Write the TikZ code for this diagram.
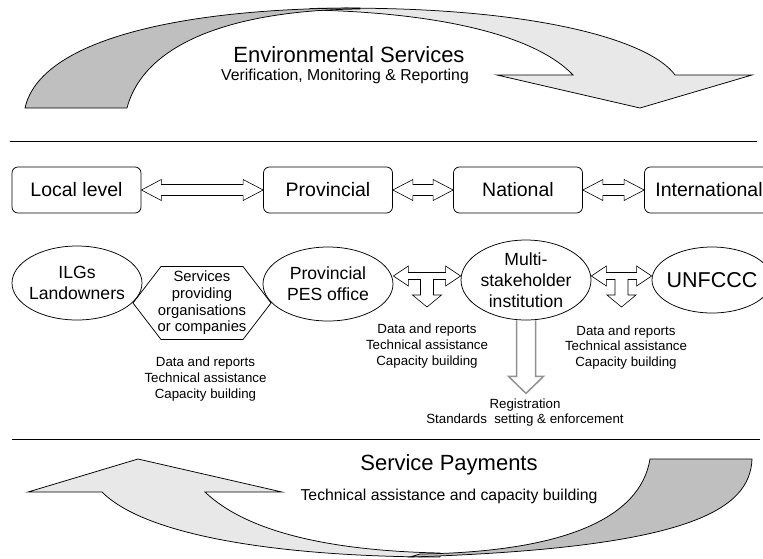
\documentclass[tikz,border=0pt]{standalone}
\usepackage{fontspec}
\setmainfont{Liberation Sans}
\usetikzlibrary{shapes.geometric,calc}

\definecolor{backgray}{RGB}{191,191,191}
\definecolor{frontgray}{RGB}{232,232,232}
\definecolor{downgray}{RGB}{145,145,145}

% hollow double arrow between two level boxes
\newcommand{\levelarrow}[2]{%
  \draw[hollow] let \p1=(#1.east), \p2=(#2.west) in
    (\x1,\y1) -- (\x1+20pt,\y1+10.5pt) -- (\x1+20pt,\y1+5.5pt)
    -- (\x2-20pt,\y1+5.5pt) -- (\x2-20pt,\y1+10.5pt) -- (\x2,\y1)
    -- (\x2-20pt,\y1-10.5pt) -- (\x2-20pt,\y1-5.5pt)
    -- (\x1+20pt,\y1-5.5pt) -- (\x1+20pt,\y1-10.5pt) -- cycle;}

% hollow left-right-down arrow between two actors, at height #3
\newcommand{\splitarrow}[3]{%
  \draw[hollow] let \p1=(#1.east), \p2=(#2.west), \p3=(0,#3),
      \p4=($(\p1)!0.5!(\p2)$) in
    (\x1,\y3) -- (\x1+15pt,\y3+10pt) -- (\x1+15pt,\y3+3.5pt)
    -- (\x2-15pt,\y3+3.5pt) -- (\x2-15pt,\y3+10pt) -- (\x2,\y3)
    -- (\x2-15pt,\y3-10pt) -- (\x2-15pt,\y3-3.5pt)
    -- (\x4+6.5pt,\y3-3.5pt) -- (\x4+6.5pt,\y3-19pt) -- (\x4+14.5pt,\y3-19pt)
    -- (\x4,\y3-31pt) -- (\x4-14.5pt,\y3-19pt) -- (\x4-6.5pt,\y3-19pt)
    -- (\x4-6.5pt,\y3-3.5pt) -- (\x1+15pt,\y3-3.5pt) -- (\x1+15pt,\y3-10pt)
    -- cycle;}

\begin{document}
\begin{tikzpicture}[x=1pt,y=-1pt,line width=0.75pt,
    level/.style={draw,rounded corners=6pt,minimum width=129pt,
      minimum height=46pt,inner sep=0pt,font=\fontsize{19.5}{22}\selectfont},
    actor/.style={draw,ellipse,minimum width=130pt,minimum height=74pt,
      inner xsep=-12pt,inner ysep=0pt,align=center,
      font=\fontsize{17.6}{21}\selectfont},
    flowtext/.style={align=center,font=\fontsize{13.3}{15.6}\selectfont},
    bigtitle/.style={font=\fontsize{22}{26}\selectfont,inner sep=1pt},
    subtitle/.style={font=\fontsize{15.8}{18}\selectfont,inner sep=1pt},
    hollow/.style={draw,fill=white,line width=0.6pt}]

    \useasboundingbox (0,0) rectangle (763,558);

    % Environmental services arrow (front part, then the back part on top)
    \draw[fill=frontgray] (310,8.5) .. controls (530,4) and (650,40) .. (675,75)
        -- (752,75) -- (640,108) -- (497,75) -- (573,75)
        .. controls (530,30) and (420,12) .. (310,10) -- cycle;
    \draw[fill=backgray] (25,108) .. controls (40,40) and (180,8) .. (360,8)
        -- (360,9) .. controls (240,10) and (145,40) .. (127,108) -- cycle;

    \node[bigtitle] (envtitle) at (349,55) {Environmental Services};
    \node[subtitle] (envsub) at (345,76.5) {Verification, Monitoring \& Reporting};

    % Separating lines
    \coordinate (topL) at (10,141);
    \coordinate (topR) at (757,141);
    \coordinate (botL) at (12,439);
    \coordinate (botR) at (760,439);
    \draw (topL) -- (topR);
    \draw (botL) -- (botR);

    % Levels
    \node[level] (local) at (76.5,190) {Local level};
    \node[level] (prov) at (328,190) {Provincial};
    \node[level] (nat) at (518,190) {National};
    \node[level] (intl) at (709,190) {International};

    \levelarrow{local}{prov}
    \levelarrow{prov}{nat}
    \levelarrow{nat}{intl}

    % Actors
    \node[actor] (ilg) at (77,283) {ILGs\\Landowners};
    \node[align=center,inner sep=0pt,font=\fontsize{14.8}{16.7}\selectfont]
        (serv) at (202,303) {Services\\providing\\organisations\\or companies};
    \draw ($(serv)+(-41,-36.5)$) -- ($(serv)+(41,-36.5)$) -- ($(serv)+(69,0)$)
        -- ($(serv)+(41,36.5)$) -- ($(serv)+(-41,36.5)$) -- ($(serv)+(-69,0)$) -- cycle;
    \node[actor] (pes) at (328,284) {Provincial\\PES office};
    \node[actor,minimum height=80pt] (multi) at (526,280) {Multi-\\stakeholder\\institution};
    \node[actor,minimum width=120pt,minimum height=66pt,
        font=\fontsize{21.5}{24}\selectfont] (unfccc) at (712,280) {UNFCCC};

    \splitarrow{pes}{multi}{276}
    \splitarrow{multi}{unfccc}{276}

    % Flows
    \node[flowtext] (flow1) at (205.5,379) {Data and reports\\Technical assistance\\Capacity building};
    \node[flowtext] (flow2) at (427,346) {Data and reports\\Technical assistance\\Capacity building};
    \node[flowtext] (flow3) at (626,347.5) {Data and reports\\Technical assistance\\Capacity building};
    \node[flowtext] (reg) at (525,412.5) {Registration\\Standards\ \ setting \& enforcement};

    \draw[downgray,line width=1.5pt,line join=miter] ([xshift=-9.5pt]multi.south)
        -- ++(0,56) -- ++(-8,0) -- ++(17.5,17) -- ++(17.5,-17) -- ++(-8,0) -- ++(0,-56);

    % Service payments arrow (front part, then the back part on top)
    \draw[fill=frontgray] (102,492) .. controls (150,540) and (300,557) .. (440,557)
        -- (440,553) .. controls (340,551) and (250,535) .. (205,492)
        -- (282,492) -- (138,459) -- (28,492) -- cycle;
    \draw[fill=backgray] (752,459) .. controls (750,510) and (690,548) .. (410,557)
        -- (420,554) .. controls (560,552) and (640,520) .. (650,459) -- cycle;

    \node[bigtitle] (paytitle) at (449,465) {Service Payments};
    \node[subtitle] (paysub) at (449,496) {Technical assistance and capacity building};

\end{tikzpicture}
\end{document}
